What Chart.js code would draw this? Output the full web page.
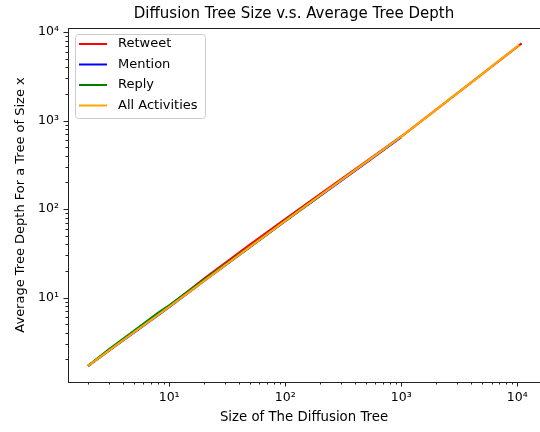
<!DOCTYPE html>
<html>
<head>
<meta charset="utf-8">
<script src="https://cdn.jsdelivr.net/npm/chart.js@4.4.1/dist/chart.umd.min.js"></script>
<style>
  body { margin: 0; background: #fff; }
  #wrap { width: 540px; height: 432px; }
</style>
</head>
<body>
<div id="wrap"><canvas id="chart" width="540" height="432"></canvas></div>
<script>
// data (tree size -> average depth)
var retweetSize  = [2, 3, 5, 10, 20, 50, 100, 200, 500, 1000, 2000, 5000, 10900];
var retweetDepth = [1.69, 2.5, 4.1, 8.0, 16.4, 40, 77, 147, 345, 660, 1330, 3370, 7450];

var mentionSize  = [2, 3, 5, 10, 20, 50, 100, 200, 500, 1000];
var mentionDepth = [1.69, 2.5, 4.05, 7.8, 15.5, 37.5, 73, 141, 335, 650];

var replySize  = [2, 3, 5, 8, 10, 20, 50, 100, 200];
var replyDepth = [1.69, 2.58, 4.25, 6.7, 8.15, 16, 38, 74, 142];

var allSize  = [2, 3, 5, 10, 20, 50, 100, 200, 500, 1000, 2000, 5000, 10400];
var allDepth = [1.69, 2.5, 4.08, 7.85, 15.5, 37.6, 73.5, 143, 340, 657, 1330, 3370, 7150];

var seriesNames  = ["Retweet", "Mention", "Reply", "All Activities"];
var seriesColors = ["#ff0000", "#0000ff", "#008000", "#ffa500"];

var xTickValues = [10, 100, 1000, 10000];
var xTickLabels = ["10\u00b9", "10\u00b2", "10\u00b3", "10\u2074"];
var yTickValues = [10, 100, 1000, 10000];
var yTickLabels = ["10\u00b9", "10\u00b2", "10\u00b3", "10\u2074"];

var chartTitle = "Diffusion Tree Size v.s. Average Tree Depth";

var FONT = "'DejaVu Sans', sans-serif";
var INK = "#222";

function toPoints(xs, ys) {
  var pts = [];
  for (var i = 0; i < xs.length; i++) pts.push({x: xs[i], y: ys[i]});
  return pts;
}

function makeSet(i, xs, ys) {
  return {
    label: seriesNames[i],
    data: toPoints(xs, ys),
    borderColor: seriesColors[i],
    backgroundColor: seriesColors[i],
    borderWidth: 2.2,
    pointRadius: 0,
    fill: false,
    tension: 0,
    order: 3 - i   // later series drawn on top, like matplotlib
  };
}

// minor/major tick marks like matplotlib, top spine, title and legend box
var decor = {
  id: "decor",
  afterDraw: function(chart) {
    var ctx = chart.ctx, a = chart.chartArea;
    var xs = chart.scales.x, ys = chart.scales.y;
    ctx.save();
    ctx.strokeStyle = INK;
    ctx.lineWidth = 1;
    ctx.beginPath();
    ctx.moveTo(a.left, a.top + 0.5);
    ctx.lineTo(a.right, a.top + 0.5);
    ctx.stroke();

    for (var e = 0; e <= 4; e++) {
      for (var d = 1; d <= 9; d++) {
        var v = d * Math.pow(10, e);
        var len = d == 1 ? 4.5 : 2.5;
        if (v >= xs.min && v <= xs.max) {
          var px = Math.round(xs.getPixelForValue(v)) + 0.5;
          ctx.beginPath(); ctx.moveTo(px, a.bottom); ctx.lineTo(px, a.bottom + len); ctx.stroke();
        }
        if (v >= ys.min && v <= ys.max) {
          var py = Math.round(ys.getPixelForValue(v)) + 0.5;
          ctx.beginPath(); ctx.moveTo(a.left, py); ctx.lineTo(a.left - len, py); ctx.stroke();
        }
      }
    }

    // title, centred a bit left of the (cropped) axes
    ctx.fillStyle = "#000";
    ctx.font = "15px " + FONT;
    ctx.textAlign = "center";
    ctx.textBaseline = "middle";
    ctx.fillText(chartTitle, 294, 14);

    // legend
    var lx = a.left + 7, ly = a.top + 6, lw = 130, lh = 84;
    ctx.fillStyle = "rgba(255,255,255,0.8)";
    ctx.strokeStyle = "#cccccc";
    ctx.beginPath();
    if (ctx.roundRect) ctx.roundRect(lx + 0.5, ly + 0.5, lw, lh, 3);
    else ctx.rect(lx + 0.5, ly + 0.5, lw, lh);
    ctx.fill();
    ctx.stroke();
    ctx.font = "13px " + FONT;
    ctx.textBaseline = "middle";
    ctx.textAlign = "left";
    chart.data.datasets.forEach(function(ds, i) {
      var yy = ly + 10 + i * 20.5;
      ctx.strokeStyle = ds.borderColor;
      ctx.lineWidth = 2;
      ctx.beginPath(); ctx.moveTo(lx + 4, yy); ctx.lineTo(lx + 32, yy); ctx.stroke();
      ctx.fillStyle = "#000";
      ctx.fillText(ds.label, lx + 43, yy);
    });
    ctx.restore();
  }
};

new Chart(document.getElementById("chart"), {
  type: "line",
  data: {
    datasets: [
      makeSet(0, retweetSize, retweetDepth),
      makeSet(1, mentionSize, mentionDepth),
      makeSet(2, replySize, replyDepth),
      makeSet(3, allSize, allDepth)
    ]
  },
  options: {
    responsive: false,
    animation: false,
    layout: { padding: { top: 28, left: 0, right: 0, bottom: 0 } },
    plugins: {
      legend: { display: false },
      tooltip: { enabled: false },
      title: { display: false }
    },
    scales: {
      x: {
        type: "logarithmic",
        min: 1.343,
        max: 15700,
        afterFit: function(s) { s.height = 50; },
        afterBuildTicks: function(s) { s.ticks = xTickValues.map(function(v) { return {value: v}; }); },
        grid: { display: true, drawOnChartArea: false, drawTicks: true, tickLength: 5, tickColor: "rgba(0,0,0,0)" },
        border: { display: true, color: INK, width: 1 },
        ticks: {
          autoSkip: false, maxRotation: 0, padding: 3, color: "#000",
          font: { family: FONT, size: 12.5 },
          callback: function(v, i) { return xTickLabels[i]; }
        },
        title: {
          display: true, text: "Size of The Diffusion Tree", color: "#000",
          font: { family: FONT, size: 13.3 }, padding: { top: 0, bottom: 6 }
        }
      },
      y: {
        type: "logarithmic",
        min: 1.114,
        max: 11090,
        afterFit: function(s) { s.width = 68; },
        afterBuildTicks: function(s) { s.ticks = yTickValues.map(function(v) { return {value: v}; }); },
        grid: { display: true, drawOnChartArea: false, drawTicks: true, tickLength: 5, tickColor: "rgba(0,0,0,0)" },
        border: { display: true, color: INK, width: 1 },
        ticks: {
          autoSkip: false, padding: 4, color: "#000",
          font: { family: FONT, size: 12.5 },
          callback: function(v, i) { return yTickLabels[i]; }
        },
        title: {
          display: true, text: "Average Tree Depth For a Tree of Size x", color: "#000",
          font: { family: FONT, size: 13 }, padding: { top: 13, bottom: 0 }
        }
      }
    }
  },
  plugins: [decor]
});
</script>
</body>
</html>
